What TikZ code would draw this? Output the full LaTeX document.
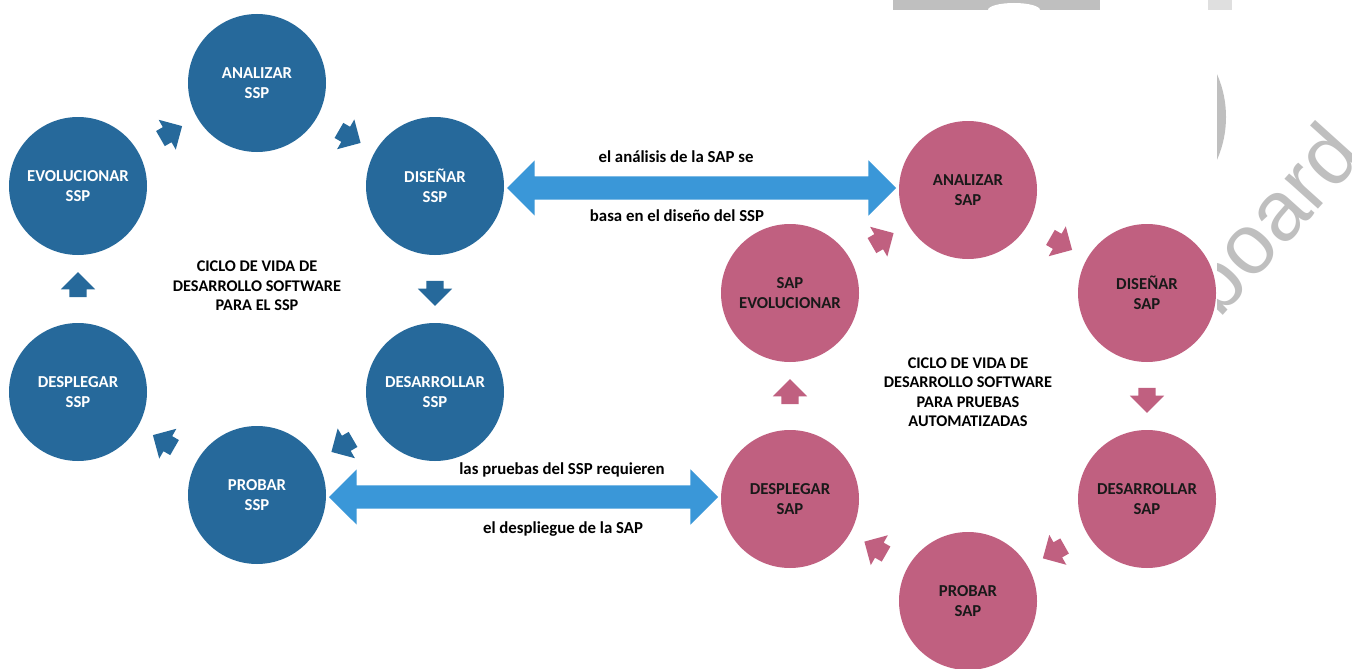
\documentclass[tikz,border=0pt]{standalone}
\usepackage{fontspec}
\setmainfont{Carlito}
\newfontfamily\wmfont{Liberation Sans}
\usetikzlibrary{shapes.arrows,calc}
\definecolor{ssp}{HTML}{26699B}
\definecolor{sap}{HTML}{C06080}
\definecolor{link}{HTML}{3A97D8}
\definecolor{wmgray}{HTML}{BFBFBF}
\begin{document}
\begin{tikzpicture}[x=1pt,y=-1pt,
  stage/.style={circle, minimum size=138pt, inner sep=0pt, align=center,
    font=\bfseries\fontsize{16.7}{20}\selectfont},
  sspstage/.style={stage, fill=ssp, text=white},
  sapstage/.style={stage, fill=sap, text=black!90},
  flow/.style={single arrow, single arrow head extend=8.5pt, text height=17pt,
    text depth=0pt, minimum height=25pt, inner sep=0pt, sloped, allow upside down},
  linkarrow/.style={double arrow, fill=link, double arrow head extend=16pt,
    text height=23pt, text depth=0pt, minimum height=389pt, inner sep=0pt},
  note/.style={font=\bfseries\fontsize{16.8}{19}\selectfont},
  cycletitle/.style={align=center, font=\bfseries\fontsize{16.3}{19.5}\selectfont}]

% page
\useasboundingbox (0,0) rectangle (1352,669);
\fill[white] (0,0) rectangle (1352,669);

% background watermark, mostly covered by the diagram sheet
\fill[wmgray] (893,0) rectangle (1100,10);
\fill[white] (988,10) arc[start angle=180, end angle=0, x radius=26pt, y radius=7pt];
\fill[wmgray!50] (1208,0) rectangle (1232,10);
\draw[wmgray, line width=12pt] (1120,117) circle[radius=100pt];
\node[text=wmgray, font=\wmfont\fontsize{85}{85}\selectfont, rotate=48] (wm) at (1270,218) {board};

% diagram sheet
\fill[white] (0,10) rectangle (1217,669);

% software life cycle of the SSP
\begin{scope}
\node[sspstage] (a1) at (257,83)  {ANALIZAR\\SSP};
\node[sspstage] (d1) at (435,186) {DISEÑAR\\SSP};
\node[sspstage] (r1) at (435,392) {DESARROLLAR\\SSP};
\node[sspstage] (p1) at (257,495) {PROBAR\\SSP};
\node[sspstage] (s1) at (78,392)  {DESPLEGAR\\SSP};
\node[sspstage] (e1) at (78,186)  {EVOLUCIONAR\\SSP};
\path (e1) -- node[flow, fill=ssp] (f11) {} (a1);
\path (a1) -- node[flow, fill=ssp] (f12) {} (d1);
\path (d1) -- node[flow, fill=ssp] (f13) {} (r1);
\path (r1) -- node[flow, fill=ssp] (f14) {} (p1);
\path (p1) -- node[flow, fill=ssp] (f15) {} (s1);
\path (s1) -- node[flow, fill=ssp] (f16) {} (e1);
\node[cycletitle] (t1) at (257,286) {CICLO DE VIDA DE\\DESARROLLO SOFTWARE\\PARA EL SSP};
\end{scope}

% software life cycle of the SAP
\begin{scope}
\node[sapstage] (a2) at (968,190) {ANALIZAR\\SAP};
\node[sapstage] (d2) at (1147,293) {DISEÑAR\\SAP};
\node[sapstage] (r2) at (1147,499) {DESARROLLAR\\SAP};
\node[sapstage] (p2) at (968,601) {PROBAR\\SAP};
\node[sapstage] (s2) at (790,499) {DESPLEGAR\\SAP};
\node[sapstage] (e2) at (790,293) {SAP\\EVOLUCIONAR};
\path (e2) -- node[flow, fill=sap] (f21) {} (a2);
\path (a2) -- node[flow, fill=sap] (f22) {} (d2);
\path (d2) -- node[flow, fill=sap] (f23) {} (r2);
\path (r2) -- node[flow, fill=sap] (f24) {} (p2);
\path (p2) -- node[flow, fill=sap] (f25) {} (s2);
\path (s2) -- node[flow, fill=sap] (f26) {} (e2);
\node[cycletitle] (t2) at (968,392) {CICLO DE VIDA DE\\DESARROLLO SOFTWARE\\PARA PRUEBAS\\AUTOMATIZADAS};
\end{scope}

% links between the two cycles
\path (d1.east) -- node[linkarrow] (l1) {} (a2.west);
\path (p1.east) -- node[linkarrow] (l2) {} (s2.west);
\node[note] (n1) at (676,157) {el análisis de la SAP se};
\node[note] (n2) at (677,216) {basa en el diseño del SSP};
\node[note] (n3) at (562,470) {las pruebas del SSP requieren};
\node[note] (n4) at (563,529) {el despliegue de la SAP};
\end{tikzpicture}
\end{document}
